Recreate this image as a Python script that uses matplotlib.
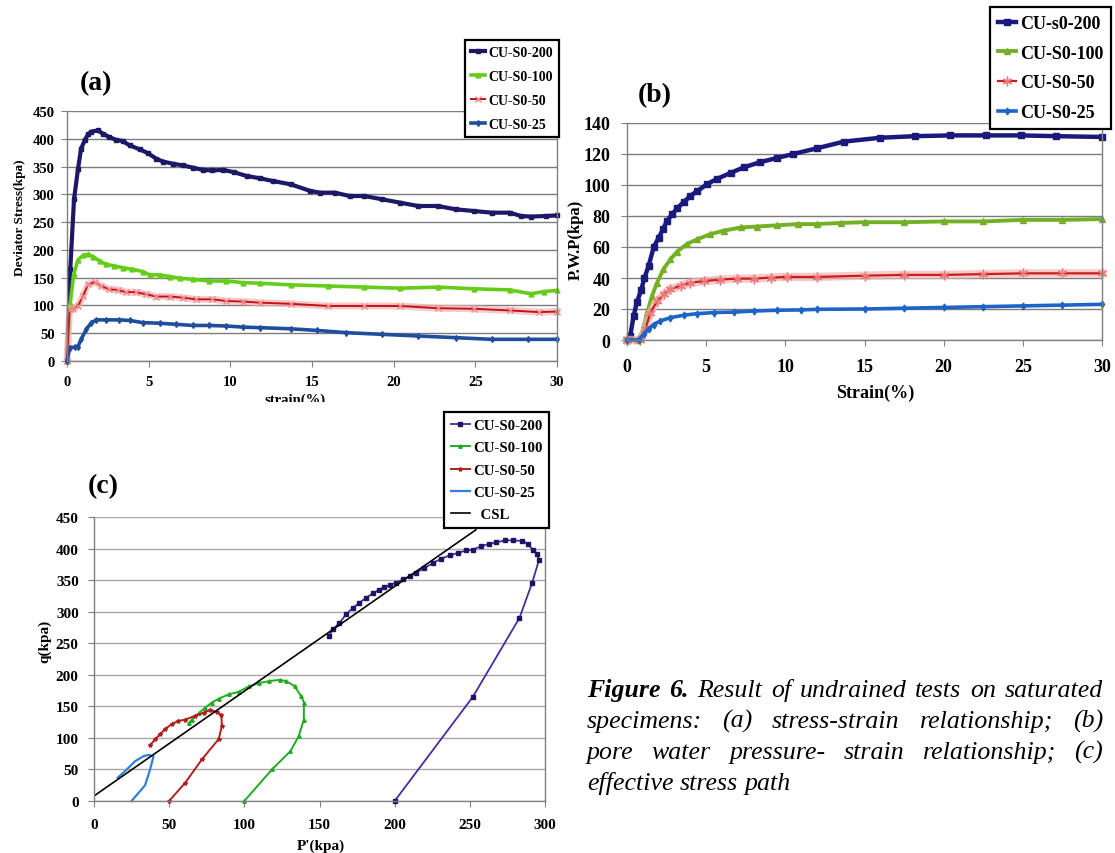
import matplotlib
matplotlib.use("Agg")
import matplotlib.pyplot as plt
from matplotlib.patches import Rectangle

W, H = 1115, 854

# (a) deviator stress vs axial strain
a200_strain = [0, 0.2, 0.43, 0.67, 0.86, 1.08, 1.29, 1.49, 1.9, 2.2, 2.6, 3.0, 3.4, 3.84, 4.45,
               4.96, 5.47, 5.88, 6.5, 7.1, 7.7, 8.3, 8.9, 9.55, 10.2, 11.0, 11.8, 12.6, 13.7,
               14.9, 15.5, 16.4, 17.3, 18.2, 19.3, 20.4, 21.5, 22.7, 23.8, 24.9, 26.0, 27.1,
               27.8, 28.4, 29.3, 30.0]
a200_q = [0, 165, 291, 345, 382, 397, 408, 413, 415, 409, 403, 398, 396, 388, 381,
          374, 364, 359, 355, 352, 348, 344, 343, 344, 340, 333, 329, 324, 318,
          306, 303, 303, 297, 297, 291, 285, 279, 279, 273, 270, 267, 267,
          261, 260, 261, 262]

a100_strain = [0, 0.2, 0.41, 0.67, 0.98, 1.29, 1.6, 2.0, 2.4, 2.9, 3.4, 4.0, 4.65, 5.06, 5.67,
               6.3, 6.9, 7.7, 8.7, 9.75, 10.8, 11.8, 13.7, 16.0, 18.2, 20.4, 22.7, 24.9,
               27.1, 28.4, 29.2, 30.0]
a100_q = [0, 104, 156, 182, 190, 192, 188, 180, 174, 171, 168, 165, 161, 155, 155,
          152, 149, 147, 144, 144, 141, 140, 137, 135, 133, 131, 133, 130,
          128, 121, 125, 127]

a50_strain = [0, 0.16, 0.37, 0.67, 0.98, 1.29, 1.69, 2.1, 2.6, 3.1, 3.6, 4.2, 4.86, 5.47, 6.3,
              7.1, 7.9, 8.9, 9.75, 10.8, 11.8, 13.7, 16.0, 18.2, 20.4, 22.7, 24.9, 27.1,
              28.9, 30.0]
a50_q = [0, 94, 93, 99, 117, 138, 142, 135, 129, 128, 124, 124, 120, 116, 116,
         114, 111, 111, 108, 107, 105, 103, 99, 99, 99, 95, 94, 91,
         88, 89]

a25_strain = [0, 0.16, 0.47, 0.67, 0.88, 1.18, 1.49, 1.8, 2.4, 3.2, 3.84, 4.65, 5.67, 6.7,
              7.7, 8.7, 9.75, 10.8, 11.8, 13.7, 15.3, 17.1, 19.3, 21.5, 23.8, 26.0, 28.2, 30.0]
a25_q = [0, 24, 25, 26, 40, 57, 69, 74, 74, 74, 73, 69, 68, 66,
         64, 64, 63, 61, 60, 58, 55, 51, 48, 45, 42, 39, 39, 39]

# (b) pore water pressure vs axial strain
b200_strain = [0, 0.2, 0.42, 0.63, 0.89, 1.1, 1.37, 1.69, 2.0, 2.28, 2.53, 2.85, 3.16, 3.59,
               4.0, 4.43, 5.06, 5.7, 6.54, 7.38, 8.4, 9.5, 10.5, 12.0, 13.7, 16.0, 18.2,
               20.4, 22.7, 24.9, 27.1, 30.0]
b200_u = [0, 2.6, 15.5, 24.6, 32, 40, 48, 60, 66, 71.5, 77, 81, 85, 89,
          93, 96, 100.6, 104, 107.8, 111.4, 114.7, 117.5, 120, 123.7, 128, 130.5, 131.5,
          132, 132, 132, 131.5, 131]

b100_strain = [0, 0.63, 0.95, 1.27, 1.58, 1.9, 2.3, 2.74, 3.16, 3.8, 4.43, 5.27, 6.1, 7.17,
               8.2, 9.5, 10.8, 12.0, 13.5, 15.0, 17.5, 20.0, 22.5, 25.0, 27.5, 30.0]
b100_u = [0, 0, 4.7, 17.7, 28.4, 37, 45.7, 52, 57, 62, 65, 68.3, 70.5, 72.6,
          73.2, 74, 74.8, 74.8, 75.5, 76, 76, 76.5, 76.5, 77.5, 77.5, 78]

b50_strain = [0, 0.84, 1.16, 1.48, 1.9, 2.32, 2.74, 3.38, 4.0, 4.85, 5.9, 6.96, 8.0, 9.1,
              10.1, 12.0, 15.0, 17.5, 20.0, 22.5, 25.0, 27.5, 30.0]
b50_u = [0, 0, 6.9, 17.7, 25, 29.5, 32.8, 35, 37, 38, 39, 39.6, 39.6, 40.3,
         40.7, 40.7, 41.5, 42, 42, 42.5, 43, 43, 43]

b25_strain = [0, 0.74, 1.05, 1.37, 1.69, 2.1, 2.74, 3.59, 4.43, 5.49, 6.75, 8.0, 9.5, 11.0,
              12.0, 15.0, 17.5, 20.0, 22.5, 25.0, 27.5, 30.0]
b25_u = [0, 0, 3.7, 7.3, 10, 12.3, 14.4, 16, 17, 17.7, 18, 18.7, 19.2, 19.4,
         19.8, 20, 20.5, 21, 21.5, 22, 22.5, 23]

# (c) effective stress paths
c200_p = [200, 252, 283, 291.5, 296, 294.6, 292, 289, 285, 278.6, 273.7, 267.5, 262.6, 257.5,
          252, 247.6, 242, 236.5, 231, 225.4, 219.8, 214.3, 209.9, 205.4, 201, 196.6, 193.2,
          189.9, 185.5, 181, 176.6, 172.2, 167.7, 163.3, 158.9, 156.2]
c200_q = [0, 165, 290, 346, 382, 392, 397, 407, 412, 413, 413, 410, 407, 404,
          398, 397, 393, 389, 384, 377, 369, 362, 356, 351, 346, 342, 339,
          335, 329, 322, 314, 306, 296, 282, 272, 261]

c100_p = [100, 118.4, 130.7, 136.2, 139.6, 139.6, 137.8, 133.4, 127.8, 123.4, 116.7, 110, 103.4,
          96.2, 89.6, 82.9, 78.4, 74, 69.6, 65.1, 62.9]
c100_q = [0, 50, 79, 103, 129, 156, 166, 182, 190, 192, 190, 187, 182,
          173, 169, 162, 156, 148, 139, 129, 123]

c50_p = [50, 60.7, 71.8, 82.9, 85.1, 84.7, 81.8, 77.3, 72.9, 67.3, 60.7, 56.2, 51.8, 47.3,
         44, 40.7, 37.3]
c50_q = [0, 29, 66, 98, 119, 136, 141, 144, 140, 135, 129, 127, 122, 114,
         106, 98, 88]

c25_p = [25, 34, 37.3, 39.6, 36.2, 32.9, 27.3, 21.8, 15.8]
c25_q = [0, 25, 50, 71, 73, 71, 63, 50, 37]

csl_p = [0, 254]
csl_slope, csl_intercept = 1.66, 8

labels_a = ["CU-S0-200", "CU-S0-100", "CU-S0-50", "CU-S0-25"]
labels_b = ["CU-s0-200", "CU-S0-100", "CU-S0-50", "CU-S0-25"]

caption_lines = [
    "Figure 6. Result of undrained tests on saturated",
    "specimens: (a) stress-strain relationship; (b)",
    "pore water pressure- strain relationship; (c)",
    "effective stress path",
]

plt.rcParams["font.family"] = ["Liberation Serif", "DejaVu Serif"]
plt.rcParams["font.weight"] = "bold"

fig = plt.figure(figsize=(W / 100, H / 100), dpi=100)


def fx(x):
    return x / W


def fy(y):
    return 1 - y / H


def px_axes(left, top, right, bottom):
    return fig.add_axes([fx(left), fy(bottom), (right - left) / W, (bottom - top) / H])


def style_axes(ax, size, xpad, ypad, grid_color):
    ax.spines["top"].set_visible(False)
    for side in ("left", "bottom", "right"):
        ax.spines[side].set_color("#808080")
        ax.spines[side].set_linewidth(1.0)
    ax.grid(axis="y", color=grid_color, lw=1.0)
    ax.set_axisbelow(True)
    ax.tick_params(axis="x", length=4, color="#808080", labelsize=size, pad=xpad)
    ax.tick_params(axis="y", length=4, color="#808080", labelsize=size, pad=ypad)
    ax.set_facecolor("white")


def add_legend(ax, x, y, size, spacing, hlen):
    leg = ax.legend(loc="upper left", bbox_to_anchor=(fx(x), fy(y)), bbox_transform=fig.transFigure,
                    fancybox=False, edgecolor="black", framealpha=1, borderaxespad=0,
                    prop={"size": size, "weight": "bold"}, handlelength=hlen, handletextpad=0.2,
                    labelspacing=spacing, borderpad=0.45, numpoints=1)
    leg.get_frame().set_linewidth(1.6)
    return leg


# ---- (a) ----
ax_a = px_axes(67, 112, 557, 362)
style_axes(ax_a, 10.5, 6, 5, "#7c7c7c")
ax_a.plot(a200_strain, a200_q, "-s", color="#1c1866", lw=3.0, ms=3, clip_on=False, label=labels_a[0])
ax_a.plot(a100_strain, a100_q, "-^", color="#66cc1a", lw=2.6, ms=3.5, clip_on=False, label=labels_a[1])
# pale halo where the cross markers crowd together
ax_a.plot(a50_strain, a50_q, "-", color="#f6b4b4", lw=5, alpha=0.7, clip_on=False)
ax_a.plot(a50_strain, a50_q, "-x", color="#c0141a", mec="#f08a8a", lw=1.4, ms=5, clip_on=False,
          label=labels_a[2])
ax_a.plot(a25_strain, a25_q, "-d", color="#1f4e9c", lw=2.6, ms=3, clip_on=False, label=labels_a[3])
ax_a.set_xlim(0, 30)
ax_a.set_ylim(0, 450)
ax_a.set_xticks(range(0, 31, 5))
ax_a.set_yticks(range(0, 451, 50))
add_legend(ax_a, 465, 41, 10.0, 0.78, 1.0)

fig.text(fx(96), fy(84), "(a)", fontsize=20, ha="center", va="center")
fig.text(fx(20), fy(218), "Deviator Stress(kpa)", fontsize=9.5, rotation=90, ha="center", va="center")
fig.text(fx(295), fy(394), "strain(%)", fontsize=10.5, ha="center", va="top")
# the strain label runs into the strip above panel (c)
fig.add_artist(Rectangle((fx(240), fy(411)), 120 / W, 8 / H, transform=fig.transFigure,
                         facecolor="white", edgecolor="none", zorder=10))

# ---- (b) ----
ax_b = px_axes(627, 124, 1102, 341)
style_axes(ax_b, 13, 9, 8, "#7c7c7c")
ax_b.plot(b200_strain, b200_u, "-s", color="#1a1a7c", lw=3.2, ms=5, clip_on=False, label=labels_b[0])
ax_b.plot(b100_strain, b100_u, "-^", color="#74b025", lw=2.8, ms=5, clip_on=False, label=labels_b[1])
ax_b.plot(b50_strain, b50_u, "-", color="#f6b4b4", lw=6, alpha=0.7, clip_on=False)
ax_b.plot(b50_strain, b50_u, "-", marker=(6, 2, 0), color="#c81e1e", mec="#ec7a7a", lw=1.6, ms=7,
          clip_on=False, label=labels_b[2])
ax_b.plot(b25_strain, b25_u, "-d", color="#1e64c8", lw=2.6, ms=3.5, clip_on=False, label=labels_b[3])
ax_b.set_xlim(0, 30)
ax_b.set_ylim(0, 140)
ax_b.set_xticks(range(0, 31, 5))
ax_b.set_yticks(range(0, 141, 20))
add_legend(ax_b, 990, 8, 13, 0.7, 1.0)

fig.text(fx(655), fy(96), "(b)", fontsize=20, ha="center", va="center")
fig.text(fx(576), fy(240), "P.W.P(kpa)", fontsize=12, rotation=90, ha="center", va="center")
fig.text(fx(875), fy(393), "Strain(%)", fontsize=13, ha="center", va="center")

# ---- (c) ----
ax_c = px_axes(94, 518, 545, 802)
style_axes(ax_c, 11, 8, 7, "#a8a8a8")
ax_c.plot(c200_p, c200_q, "-s", color="#4a2aa0", mfc="#1e1464", mec="#1e1464", lw=1.3, ms=2.5,
          clip_on=False, label=labels_a[0])
ax_c.plot(c100_p, c100_q, "-^", color="#22aa22", lw=1.4, ms=2.5, clip_on=False, label=labels_a[1])
ax_c.plot(c50_p, c50_q, "-*", color="#b41e1e", lw=1.4, ms=3, clip_on=False, label=labels_a[2])
ax_c.plot(c25_p, c25_q, "-", color="#2f80e0", lw=1.6, clip_on=False, label=labels_a[3])
ax_c.plot(csl_p, [csl_slope * p + csl_intercept for p in csl_p], color="black", lw=1.2,
          label="  CSL")
ax_c.set_xlim(0, 300)
ax_c.set_ylim(0, 450)
ax_c.set_xticks(range(0, 301, 50))
ax_c.set_yticks(range(0, 451, 50))
add_legend(ax_c, 444, 413, 10.7, 0.6, 1.3)

fig.text(fx(103), fy(487), "(c)", fontsize=20, ha="center", va="center")
fig.text(fx(45), fy(641), "q(kpa)", fontsize=11, rotation=90, ha="center", va="center")
fig.text(fx(321), fy(846), "P'(kpa)", fontsize=11, ha="center", va="center")

# ---- caption, justified between two edges ----
renderer = fig.canvas.get_renderer()
left_px, right_px = 587, 1103
baselines = [697, 728, 759, 790]
cap_size = 18.6
for i, line in enumerate(caption_lines):
    words = line.split()
    texts = []
    for j, word in enumerate(words):
        weight = "bold" if (i == 0 and j < 2) else "normal"
        texts.append(fig.text(0, fy(baselines[i]), word, fontsize=cap_size, style="italic",
                              weight=weight, va="baseline", ha="left"))
    widths = [t.get_window_extent(renderer).width for t in texts]
    if i < len(caption_lines) - 1:
        gap = (right_px - left_px - sum(widths)) / (len(words) - 1)
    else:
        gap = cap_size * 0.25 * 100 / 72
    x = left_px
    for t, w in zip(texts, widths):
        t.set_x(fx(x))
        x += w + gap

fig.savefig("out.png", dpi=100, facecolor="white")
